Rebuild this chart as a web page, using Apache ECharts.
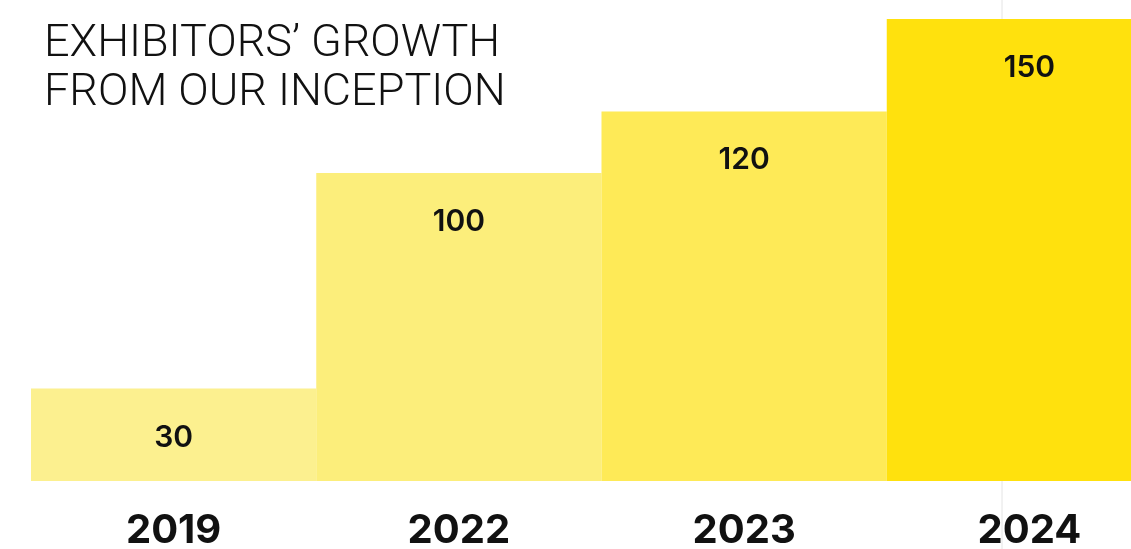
<!DOCTYPE html>
<html>
<head>
<meta charset="utf-8">
<script src="https://cdn.jsdelivr.net/npm/echarts@6/dist/echarts.min.js"></script>
<style>
html,body{margin:0;padding:0;background:#fff;}
#chart{width:1131px;height:549px;}
</style>
</head>
<body>
<div id="chart"></div>
<script>
const years = ['2019', '2022', '2023', '2024'];
const exhibitors = [30, 100, 120, 150];
const titleLines = ['EXHIBITORS’ GROWTH', 'FROM OUR INCEPTION'];
const barColors = ['#FCF08F', '#FCEE7B', '#FEEA57', '#FFE10D'];

const chart = echarts.init(document.getElementById('chart'));
chart.setOption({
  backgroundColor: '#ffffff',
  animation: false,
  title: {
    text: titleLines.join('\n'),
    left: 39,
    top: 15,
    textStyle: {
      fontFamily: 'Roboto',
      fontWeight: 300,
      fontSize: 45,
      lineHeight: 49,
      color: '#111111'
    }
  },
  graphic: [{
    type: 'line',
    z: -10,
    shape: { x1: 1002, y1: 0, x2: 1002, y2: 549 },
    style: { stroke: '#e4e4e4', lineWidth: 1 }
  }],
  grid: { left: 31, right: -41, top: 19, bottom: 68, outerBoundsMode: 'none' },
  xAxis: {
    type: 'category',
    data: years,
    axisLine: { show: false },
    axisTick: { show: false },
    axisLabel: {
      margin: 30,
      fontFamily: 'Inter',
      fontWeight: 700,
      fontSize: 40,
      color: '#111111'
    }
  },
  yAxis: {
    type: 'value',
    min: 0,
    max: 150,
    show: false,
    splitLine: { show: false }
  },
  series: [{
    type: 'bar',
    barCategoryGap: 0,
    data: exhibitors.map((v, i) => ({ value: v, itemStyle: { color: barColors[i] } })),
    label: {
      show: true,
      position: 'insideTop',
      distance: 34,
      fontFamily: 'Inter',
      fontWeight: 600,
      fontSize: 30,
      color: '#111111'
    }
  }]
});
</script>
</body>
</html>
